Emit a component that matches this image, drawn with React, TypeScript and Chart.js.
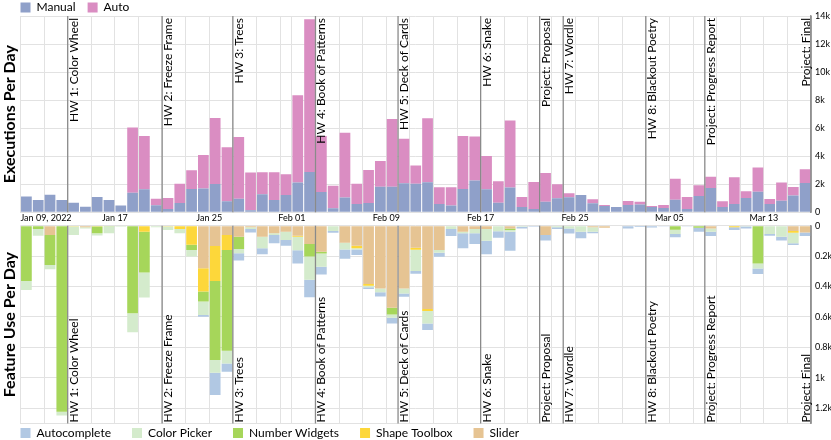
import React, { useEffect, useRef } from 'react';
import { Chart, registerables } from 'chart.js';

Chart.register(...registerables);

// ---------- data ----------
const START_DATE = '2022-01-09';
const END_DATE = '2022-03-17';

const manualRuns = [1120, 880, 1260, 880, 690, 400, 1090, 880, 480, 1400,
  1640, 500, 240, 670, 1660, 1690, 2020, 780, 970, 140,
  1280, 880, 1240, 2120, 2880, 1450, 290, 1050, 590, 670,
  1830, 1830, 2070, 2040, 2140, 590, 480, 1660, 2260, 1640,
  690, 1760, 380, 240, 760, 1000, 1070, 1240, 640, 450,
  380, 520, 550, 380, 310, 900, 240, 1160, 1740, 380,
  590, 1020, 1470, 590, 830, 1190, 2090];

const autoRuns = [0, 0, 0, 0, 0, 0, 0, 0, 0, 4640,
  3800, 470, 780, 1370, 1340, 2400, 4710, 3860, 4400, 2690,
  1570, 1970, 1470, 6220, 10880, 3990, 1610, 4630, 1450, 2350,
  1830, 4830, 3180, 1290, 4560, 1190, 1300, 3780, 3140, 2380,
  1520, 4780, 710, 1920, 2040, 1000, 280, 0, 290, 70,
  0, 290, 210, 70, 210, 1500, 850, 770, 800, 400,
  1910, 480, 1720, 360, 1290, 620, 980];

const sliderUse = [0, 0, 61, 0, 0, 11, 0, 0, 0, 0,
  0, 0, 0, 0, 0, 280, 134, 61, 72, 10,
  72, 50, 39, 66, 120, 171, 0, 112, 131, 383,
  412, 539, 412, 145, 548, 160, 0, 39, 22, 22,
  0, 18, 0, 0, 61, 0, 0, 0, 11, 13,
  3, 0, 0, 0, 0, 0, 0, 0, 18, 0,
  0, 0, 0, 0, 0, 35, 44];

const shapeToolboxUse = [0, 0, 0, 0, 6, 0, 6, 0, 0, 0,
  39, 0, 6, 22, 125, 153, 230, 99, 0, 0,
  0, 0, 0, 7, 0, 0, 0, 0, 18, 11,
  0, 0, 0, 13, 13, 0, 0, 0, 0, 0,
  0, 0, 0, 0, 0, 0, 0, 0, 0, 0,
  0, 0, 0, 0, 0, 0, 0, 0, 0, 0,
  11, 0, 0, 0, 0, 11, 0];

const numberWidgetsUse = [364, 22, 197, 1222, 0, 0, 44, 6, 0, 576,
  269, 0, 0, 0, 35, 66, 519, 662, 81, 0,
  0, 0, 0, 0, 83, 11, 0, 0, 0, 0,
  0, 44, 0, 0, 0, 0, 0, 0, 0, 0,
  0, 11, 0, 0, 0, 0, 0, 0, 0, 0,
  0, 0, 0, 0, 0, 26, 0, 13, 0, 0,
  0, 0, 248, 0, 0, 0, 0];

const colorPickerUse = [59, 44, 28, 26, 55, 7, 15, 44, 7, 125,
  164, 11, 22, 28, 42, 88, 83, 83, 28, 12,
  77, 11, 55, 88, 153, 88, 35, 44, 7, 11,
  26, 22, 33, 140, 81, 18, 22, 11, 28, 77,
  36, 10, 7, 0, 0, 11, 18, 39, 28, 0,
  0, 0, 0, 0, 0, 28, 0, 0, 22, 0,
  0, 5, 33, 55, 72, 70, 0];

const autocompleteUse = [0, 0, 0, 0, 0, 0, 0, 0, 0, 0,
  0, 0, 0, 0, 0, 11, 147, 55, 48, 22,
  39, 55, 37, 88, 114, 50, 11, 62, 37, 11,
  28, 37, 22, 18, 44, 26, 46, 99, 70, 88,
  44, 126, 11, 7, 37, 11, 33, 44, 11, 0,
  0, 18, 8, 12, 5, 22, 5, 26, 28, 3,
  18, 13, 37, 11, 26, 11, 24];

const xTickDates = ['2022-01-09', '2022-01-17', '2022-01-25', '2022-02-01', '2022-02-09',
  '2022-02-17', '2022-02-25', '2022-03-05', '2022-03-13'];
const xTickLabels = ['Jan 09, 2022', 'Jan 17', 'Jan 25', 'Feb 01', 'Feb 09',
  'Feb 17', 'Feb 25', 'Mar 05', 'Mar 13'];

const execTicks = [0, 2000, 4000, 6000, 8000, 10000, 12000, 14000];
const featureTicks = [0, 200, 400, 600, 800, 1000, 1200];

const deadlineDates = ['2022-01-13', '2022-01-21', '2022-01-27', '2022-02-03', '2022-02-10',
  '2022-02-17', '2022-02-22', '2022-02-24', '2022-03-03', '2022-03-08', '2022-03-17'];
const deadlineNames = ['HW 1: Color Wheel', 'HW 2: Freeze Frame', 'HW 3: Trees', 'HW 4: Book of Patterns',
  'HW 5: Deck of Cards', 'HW 6: Snake', 'Project: Proposal', 'HW 7: Wordle',
  'HW 8: Blackout Poetry', 'Project: Progress Report', 'Project: Final'];

// ---------- helpers ----------
const FONT = 'Lato';
const GRID = '#e2e2e2';
const W = 831;

const parseUTC = (iso: string) => {
  const [y, m, d] = iso.split('-').map(Number);
  return Date.UTC(y, m - 1, d);
};
const dayIndex = (iso: string) => Math.round((parseUTC(iso) - parseUTC(START_DATE)) / 86400000);
const DAY_COUNT = dayIndex(END_DATE);

const gridDays: number[] = [];
for (let i = 0; i <= DAY_COUNT; i++) {
  const dt = new Date(parseUTC(START_DATE) + i * 86400000);
  if (dt.getUTCDate() % 2 === 1) gridDays.push(i);
}
const labelByDay: Record<number, string> = {};
xTickDates.forEach((d, i) => { labelByDay[dayIndex(d)] = xTickLabels[i]; });

const toPoints = (arr: number[]) => arr.map((v, i) => ({ x: i + 0.5, y: v }));
const kLabel = (v: number) => (v === 0 ? '0' : `${v / 1000}k`);

const xScale = (showLabels: boolean, height: number) => ({
  type: 'linear',
  position: 'bottom',
  stacked: true,
  min: 0,
  max: DAY_COUNT,
  offset: false,
  grid: { color: GRID, lineWidth: 1, drawTicks: false, offset: false },
  border: { display: true, color: GRID },
  afterBuildTicks: (s: any) => { s.ticks = gridDays.map((v) => ({ value: v })); },
  ticks: {
    display: showLabels,
    autoSkip: false,
    maxRotation: 0,
    minRotation: 0,
    align: 'inner',
    padding: 0,
    color: '#000',
    font: { family: FONT, size: 9 },
    callback: (v: number) => labelByDay[v] ?? '',
  },
  afterFit: (s: any) => { s.height = height; },
});

const valueScale = (max: number, ticks: number[], reverse: boolean) => ({
  type: 'linear',
  position: 'right',
  stacked: true,
  reverse,
  min: 0,
  max,
  afterBuildTicks: (s: any) => { s.ticks = ticks.map((v) => ({ value: v })); },
  grid: { color: GRID, lineWidth: 1, drawTicks: false },
  border: { display: true, color: '#9a9a9a', width: 1.5 },
  ticks: {
    padding: 4,
    color: '#000',
    font: { family: FONT, size: 9 },
    callback: (v: number) => kLabel(v),
  },
  afterFit: (s: any) => { s.width = 20; },
});

const titleAxis = (text: string) => ({
  type: 'linear',
  position: 'left',
  display: true,
  ticks: { display: false },
  grid: { display: false, drawTicks: false },
  border: { display: false },
  title: {
    display: true,
    text,
    color: '#000',
    font: { family: FONT, size: 16, weight: 'bold', lineHeight: 1.2 },
    padding: 0,
  },
  afterFit: (s: any) => { s.width = 20.5; },
});

const legendPlacer = (height: number, boxX: number, boxTop: number) => ({
  id: 'legendPlacer',
  beforeInit(chart: any) {
    const legend = chart.legend;
    if (!legend) return;
    const fit = legend.fit;
    legend.fit = function () { fit.call(this); this.height = height; };
  },
  afterLayout(chart: any) {
    const legend = chart.legend;
    if (!legend) return;
    const pad = legend.options.labels.padding;
    const w = legend.width;
    legend.left = boxX - pad;
    legend.right = legend.left + w;
    legend.top = boxTop - pad - 1;
  },
});

const deadlinePlugin = (anchor: 'top' | 'bottom') => ({
  id: 'deadlines',
  afterDatasetsDraw(chart: any) {
    const { ctx, chartArea, scales } = chart;
    const x = scales.x;
    ctx.save();
    deadlineDates.forEach((d, i) => {
      const day = dayIndex(d);
      const px = x.getPixelForValue(day);
      ctx.strokeStyle = '#8a8a8a';
      ctx.lineWidth = 1.3;
      ctx.beginPath();
      ctx.moveTo(px, chartArea.top);
      ctx.lineTo(px, chartArea.bottom);
      ctx.stroke();

      const atEnd = day >= DAY_COUNT;
      const off = atEnd ? -1.5 : 10;
      ctx.save();
      ctx.fillStyle = '#000';
      ctx.font = `12px ${FONT}`;
      ctx.textBaseline = 'alphabetic';
      if (anchor === 'top') {
        ctx.translate(px, chartArea.top);
        ctx.rotate(-Math.PI / 2);
        ctx.textAlign = 'right';
        ctx.fillText(deadlineNames[i], -2, off);
      } else {
        ctx.translate(px, chartArea.bottom);
        ctx.rotate(-Math.PI / 2);
        ctx.textAlign = 'left';
        ctx.fillText(deadlineNames[i], 1, off);
      }
      ctx.restore();
    });
    ctx.restore();
  },
});

const legendOpts = (padding: number, position: string, reverse: boolean) => ({
  display: true,
  position,
  align: 'start',
  reverse,
  labels: {
    boxWidth: 10,
    boxHeight: 10,
    padding,
    color: '#000',
    font: { family: FONT, size: 12 },
  },
});

const barDefaults = { barPercentage: 0.91, categoryPercentage: 1, borderWidth: 0 };

const COLORS = {
  manual: '#8fa0c9',
  auto: '#da8dc2',
  autocomplete: '#b1c8e3',
  colorPicker: '#d4ebcc',
  numberWidgets: '#a6d65a',
  shapeToolbox: '#fdd73a',
  slider: '#e6c493',
};

const TOP_H = 228;
const BOTTOM_TOP = 214;
const BOTTOM_H = 440 - BOTTOM_TOP;

export default function App() {
  const topRef = useRef<HTMLCanvasElement | null>(null);
  const bottomRef = useRef<HTMLCanvasElement | null>(null);

  useEffect(() => {
    Chart.defaults.font.family = FONT;
    const top = new Chart(topRef.current as HTMLCanvasElement, {
      type: 'bar',
      data: {
        datasets: [
          { label: 'Manual', data: toPoints(manualRuns), backgroundColor: COLORS.manual, xAxisID: 'x', yAxisID: 'y', ...barDefaults },
          { label: 'Auto', data: toPoints(autoRuns), backgroundColor: COLORS.auto, xAxisID: 'x', yAxisID: 'y', ...barDefaults },
        ],
      } as any,
      options: {
        responsive: false,
        animation: false,
        events: [],
        layout: { padding: { top: 0, left: 0, right: 0, bottom: 0 } },
        scales: {
          x: xScale(true, TOP_H - 212.3),
          y: valueScale(14000, execTicks, false),
          yt: titleAxis('Executions Per Day'),
        },
        plugins: {
          legend: legendOpts(12, 'top', false),
          tooltip: { enabled: false },
        },
      } as any,
      plugins: [legendPlacer(16, 20.5, 2.5), deadlinePlugin('top')] as any,
    });

    const bottom = new Chart(bottomRef.current as HTMLCanvasElement, {
      type: 'bar',
      data: {
        datasets: [
          { label: 'Slider', data: toPoints(sliderUse), backgroundColor: COLORS.slider, xAxisID: 'x', yAxisID: 'y', ...barDefaults },
          { label: 'Shape Toolbox', data: toPoints(shapeToolboxUse), backgroundColor: COLORS.shapeToolbox, xAxisID: 'x', yAxisID: 'y', ...barDefaults },
          { label: 'Number Widgets', data: toPoints(numberWidgetsUse), backgroundColor: COLORS.numberWidgets, xAxisID: 'x', yAxisID: 'y', ...barDefaults },
          { label: 'Color Picker', data: toPoints(colorPickerUse), backgroundColor: COLORS.colorPicker, xAxisID: 'x', yAxisID: 'y', ...barDefaults },
          { label: 'Autocomplete', data: toPoints(autocompleteUse), backgroundColor: COLORS.autocomplete, xAxisID: 'x', yAxisID: 'y', ...barDefaults },
        ],
      } as any,
      options: {
        responsive: false,
        animation: false,
        events: [],
        layout: { padding: { top: 225.7 - BOTTOM_TOP, left: 0, right: 0, bottom: 0 } },
        scales: {
          x: xScale(false, 0),
          y: valueScale(1300, featureTicks, true),
          yt: titleAxis('Feature Use Per Day'),
        },
        plugins: {
          legend: legendOpts(21, 'bottom', true),
          tooltip: { enabled: false },
        },
      } as any,
      plugins: [legendPlacer(BOTTOM_H - (423.5 - BOTTOM_TOP), 20.5, 428 - BOTTOM_TOP), deadlinePlugin('bottom')] as any,
    });

    return () => {
      top.destroy();
      bottom.destroy();
    };
  }, []);

  return (
    <div style={{ position: 'absolute', left: 0, top: 0, width: W, height: 440, overflow: 'hidden', background: '#fff' }}>
      <canvas ref={topRef} width={W} height={TOP_H} style={{ position: 'absolute', left: 0, top: 0, display: 'block' }} />
      <canvas ref={bottomRef} width={W} height={BOTTOM_H} style={{ position: 'absolute', left: 0, top: BOTTOM_TOP, display: 'block' }} />
    </div>
  );
}
